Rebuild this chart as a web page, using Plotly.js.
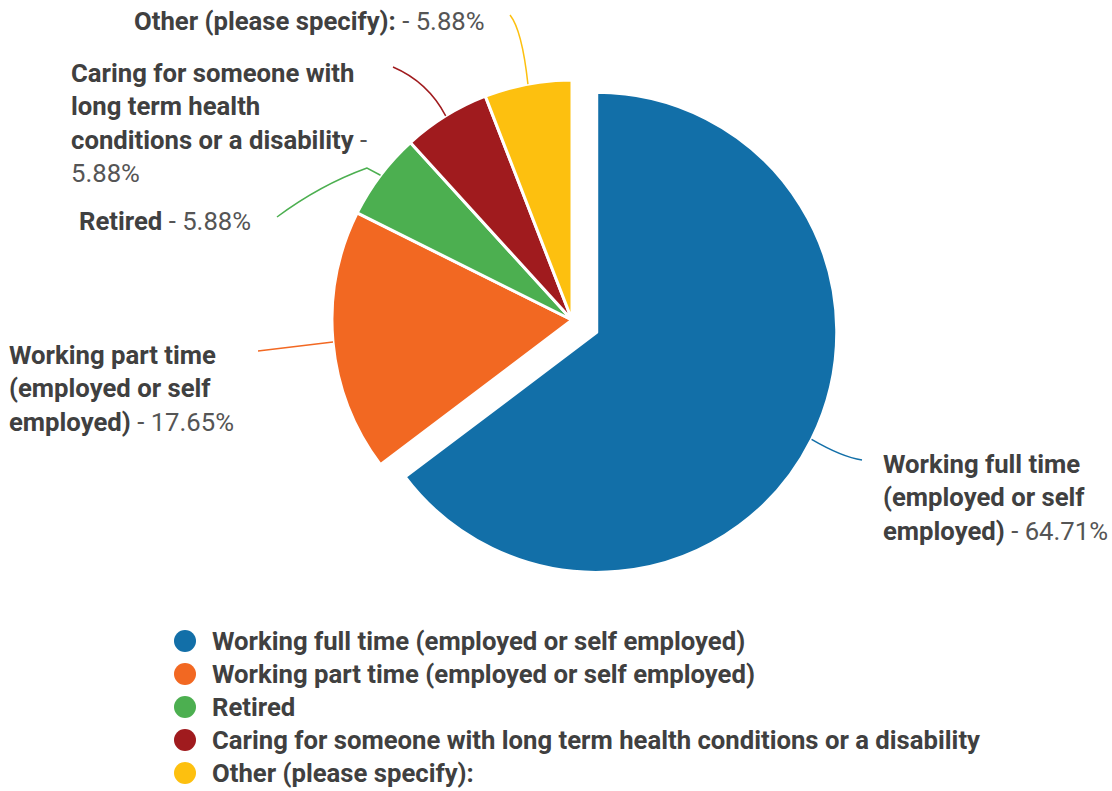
<!DOCTYPE html>
<html><head><meta charset="utf-8">
<script src="https://cdn.plot.ly/plotly-3.0.1.min.js"></script>
<style>html,body{margin:0;padding:0;background:#fff}#chart{width:1112px;height:791px}</style>
</head><body><div id="chart"></div>
<script>
// ---- data ----
const categories = [
  "Working full time (employed or self employed)",
  "Working part time (employed or self employed)",
  "Retired",
  "Caring for someone with long term health conditions or a disability",
  "Other (please specify):"
];
const percentages = [64.71, 17.65, 5.88, 5.88, 5.88];
const colors = ["#126fa8", "#f26822", "#4caf50", "#a01b1e", "#fdc00f"];
const labelLines = [
  ["Working full time", "(employed or self", "employed)"],
  ["Working part time", "(employed or self", "employed)"],
  ["Retired"],
  ["Caring for someone with", "long term health", "conditions or a disability"],
  ["Other (please specify):"]
];
const pctOnNewLine = [false, false, false, true, false];
const pulls = [0.115, 0, 0, 0, 0];

// ---- layout helpers ----
const W = 1112, H = 791;
const domX = [0.2394, 0.7894], domY = [0.2571, 0.9338];
const px2x = p => p / W, px2y = p => 1 - p / H;
const FS = 25.7;
const txtColor = "#404040", pctColor = "#555555";

// pie geometry, following Plotly's own sizing rule
const maxPull = Math.max(...pulls);
const boxW = W * (domX[1] - domX[0]), boxH = H * (domY[1] - domY[0]);
const R = Math.min(boxW / 2, boxH / 2) / (1 + maxPull);
const CX = W * (domX[0] + domX[1]) / 2;
const CY = H * (1 - domY[0]) - boxH / 2;
const total = percentages.reduce((a, b) => a + b, 0);
let cum = 0;
const edgePts = percentages.map((v, i) => {
  const th = 2 * Math.PI * (cum + v / 2) / total; cum += v;
  const k = R * (1 + pulls[i]);
  return [CX + k * Math.sin(th), CY - k * Math.cos(th)];
});

// label anchors (px) and leader-line routes (px)
const labelPos = [
  {x: 881, y: 447, xa: "left"},
  {x: 7,   y: 338, xa: "left"},
  {x: 77,  y: 204, xa: "left"},
  {x: 69,  y: 56,  xa: "left"},
  {x: 487, y: 4,   xa: "right"}
];
const leaderRoute = [
  {q: [842, 457], end: [862, 460]},
  {q: [300, 346], end: [258, 351]},
  {mid: [367, 168], q: [320, 185], end: [277, 217]},
  {q: [428, 82], end: [393, 67]},
  {q: [522, 30], end: [510, 15]}
];

const annotations = labelLines.map((lines, i) => {
  const pct = percentages[i].toFixed(2) + "%";
  const bold = lines.map(l => "<b>" + l + "</b>");
  let txt;
  if (pctOnNewLine[i]) {
    bold[bold.length - 1] += "<span style='color:" + pctColor + "'> -</span>";
    txt = bold.join("<br>") + "<br><span style='color:" + pctColor + "'>" + pct + "</span>";
  } else {
    bold[bold.length - 1] += "<span style='color:" + pctColor + "'> - " + pct + "</span>";
    txt = bold.join("<br>");
  }
  const p = labelPos[i];
  return {
    xref: "paper", yref: "paper", x: px2x(p.x), y: px2y(p.y),
    xanchor: p.xa, yanchor: "top", align: p.xa, showarrow: false,
    text: txt, font: {family: "Roboto", size: FS, color: txtColor}
  };
});

const shapes = leaderRoute.map((r, i) => {
  const s = edgePts[i];
  let path = "M" + px2x(s[0]) + "," + px2y(s[1]);
  if (r.mid) path += " L" + px2x(r.mid[0]) + "," + px2y(r.mid[1]);
  path += " Q" + px2x(r.q[0]) + "," + px2y(r.q[1]) + " " + px2x(r.end[0]) + "," + px2y(r.end[1]);
  return {type: "path", xref: "paper", yref: "paper", path: path,
          line: {color: colors[i], width: 1.5}};
});

// legend: circle swatches + bold text rows
const legX = 185, legY0 = 641, legStep = 33, legR = 11;
categories.forEach((c, i) => {
  const cy = legY0 + legStep * i;
  shapes.push({type: "circle", xref: "paper", yref: "paper",
    x0: px2x(legX - legR), x1: px2x(legX + legR), y0: px2y(cy + legR), y1: px2y(cy - legR),
    fillcolor: colors[i], line: {width: 0}});
  annotations.push({xref: "paper", yref: "paper", x: px2x(210), y: px2y(cy),
    xanchor: "left", yanchor: "middle", align: "left", showarrow: false,
    text: "<b>" + c + "</b>", font: {family: "Roboto", size: FS, color: txtColor}});
});

const pieTrace = {
  type: "pie", values: percentages, labels: categories, sort: false,
  direction: "clockwise", rotation: 0, pull: pulls,
  marker: {colors: colors, line: {color: "#ffffff", width: 3}},
  textinfo: "none", showlegend: false, domain: {x: domX, y: domY},
  hovertemplate: "%{label}: %{value:.2f}%<extra></extra>"
};

const layout = {
  width: W, height: H, margin: {l: 0, r: 0, t: 0, b: 0},
  paper_bgcolor: "#ffffff", plot_bgcolor: "#ffffff",
  showlegend: false,
  annotations: annotations, shapes: shapes
};

Plotly.newPlot("chart", [pieTrace], layout, {displayModeBar: false, staticPlot: true});
</script></body></html>
